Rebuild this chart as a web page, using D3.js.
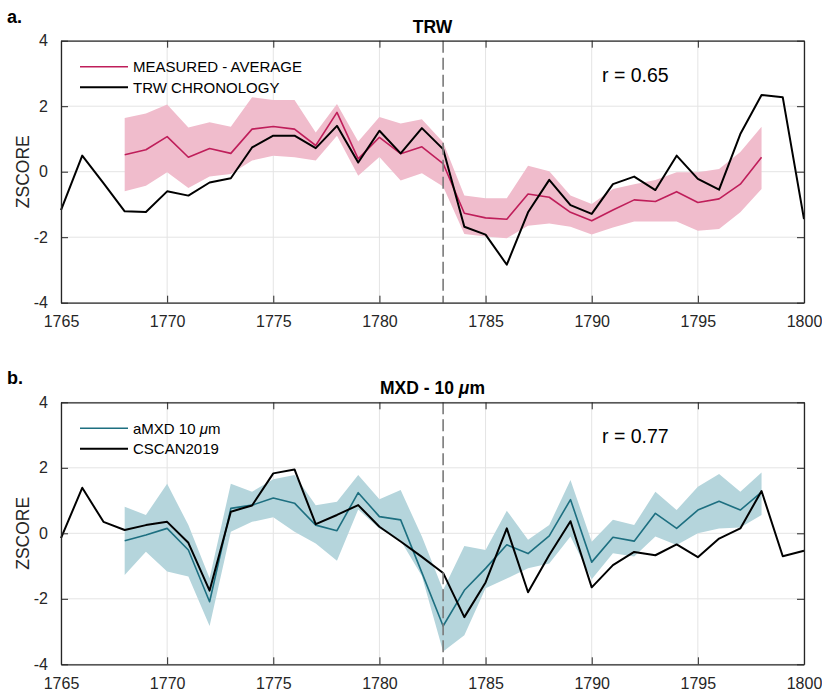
<!DOCTYPE html>
<html lang="en">
<head>
<meta charset="utf-8">
<title>TRW / MXD</title>
<script src="https://d3js.org/d3.v7.min.js"></script>
<style>
    body { margin: 0; background: #fff; }
    svg { display: block; font-family: "Liberation Sans", Arial, sans-serif; }
    .tick text { fill: #262626; font-size: 16px; }
    .tick line { stroke: #262626; }
    .domain { stroke: #262626; stroke-width: 1.3; }
</style>
</head>
<body>
<div id="chart"></div>
<script>
// years
var chronYears = [1765, 1766, 1767, 1768, 1769, 1770, 1771, 1772, 1773, 1774, 1775, 1776,
    1777, 1778, 1779, 1780, 1781, 1782, 1783, 1784, 1785, 1786, 1787, 1788,
    1789, 1790, 1791, 1792, 1793, 1794, 1795, 1796, 1797, 1798, 1799, 1800];
var sampleYears = [1768, 1769, 1770, 1771, 1772, 1773, 1774, 1775, 1776, 1777, 1778,
    1779, 1780, 1781, 1782, 1783, 1784, 1785, 1786, 1787, 1788, 1789, 1790,
    1791, 1792, 1793, 1794, 1795, 1796, 1797, 1798];
var xTicks = [1765, 1770, 1775, 1780, 1785, 1790, 1795, 1800];
var yTicks = [-4, -2, 0, 2, 4];
var eventYear = 1783;

// panel a - ring width
var trwChron = [-1.17, 0.49, -0.35, -1.21, -1.23, -0.60, -0.73, -0.33, -0.20, 0.74, 1.10, 1.10,
    0.72, 1.40, 0.28, 1.25, 0.56, 1.33, 0.69, -1.68, -1.92, -2.84, -1.24, -0.25,
    -1.02, -1.29, -0.38, -0.15, -0.56, 0.49, -0.22, -0.55, 1.15, 2.34, 2.27, -1.45];
var trwMean = [0.52, 0.67, 1.07, 0.44, 0.71, 0.56, 1.30, 1.38, 1.30, 0.80, 1.81,
    0.39, 1.05, 0.55, 0.76, 0.25, -1.27, -1.41, -1.45, -0.68, -0.78, -1.24, -1.50,
    -1.17, -0.86, -0.91, -0.61, -0.94, -0.83, -0.38, 0.44];
var trwUpper = [1.64, 1.78, 2.05, 1.35, 1.51, 1.37, 2.27, 2.19, 2.19, 1.20, 2.07,
    0.92, 1.67, 1.47, 1.60, 0.90, -0.73, -0.81, -0.81, 0.18, 0.01, -0.73, -0.99,
    -0.53, -0.38, -0.25, -0.02, -0.02, 0.08, 0.60, 1.37];
var trwLower = [-0.60, -0.43, -0.02, -0.50, -0.15, -0.07, 0.34, 0.49, 0.44, 0.34, 1.10,
    -0.12, 0.45, -0.27, -0.05, -0.45, -1.90, -1.98, -2.03, -1.65, -1.58, -1.68, -1.92,
    -1.70, -1.52, -1.52, -1.52, -1.80, -1.75, -1.24, -0.53];

// panel b - max density
var mxdChron = [-0.15, 1.39, 0.35, 0.10, 0.25, 0.35, -0.29, -1.75, 0.66, 0.85, 1.83, 1.95,
    0.28, 0.56, 0.86, 0.20, -0.25, -0.72, -1.21, -2.56, -1.50, 0.15, -1.80, -0.66,
    0.37, -1.65, -0.97, -0.57, -0.67, -0.34, -0.73, -0.16, 0.15, 1.29, -0.70, -0.53];
var mxdMean = [-0.23, -0.05, 0.15, -0.51, -2.09, 0.76, 0.86, 1.08, 0.92, 0.25, 0.08,
    1.24, 0.51, 0.41, -1.20, -2.83, -1.74, -1.07, -0.35, -0.62, -0.08, 1.03, -0.88,
    -0.12, -0.24, 0.61, 0.15, 0.71, 0.98, 0.71, 1.26];
var mxdUpper = [0.81, 0.56, 1.51, 0.25, -1.37, 1.51, 1.27, 1.65, 1.78, 0.86, 0.96,
    1.78, 1.04, 1.32, -0.10, -1.73, -0.39, -0.51, 0.69, -0.20, 0.25, 1.63, -0.26,
    0.41, 0.25, 1.27, 0.71, 1.42, 1.81, 1.27, 1.86];
var mxdLower = [-1.27, -0.56, -1.17, -1.32, -2.83, 0.05, 0.35, 0.49, 0.05, -0.31, -0.84,
    0.73, 0.15, -0.22, -1.30, -3.61, -3.11, -1.68, -1.38, -1.07, -0.92, -0.10, -1.40,
    -0.61, -0.71, -0.10, -0.36, 0.00, 0.15, 0.18, 0.56];

var W = 822, H = 693;
var svg = d3.select("#chart").append("svg")
    .attr("width", W)
    .attr("height", H);
svg.append("rect").attr("width", W).attr("height", H).attr("fill", "#fff");

var x = d3.scaleLinear().domain([1765, 1800]).range([61, 804]);

function drawPanel(opt) {
    var y = d3.scaleLinear().domain([-4, 4]).range([opt.bottom, opt.top]);
    var g = svg.append("g");

    // grid
    g.selectAll(".vgrid").data(xTicks).enter().append("line")
        .attr("x1", function (d) { return x(d); })
        .attr("x2", function (d) { return x(d); })
        .attr("y1", opt.top).attr("y2", opt.bottom)
        .attr("stroke", "#e4e4e4").attr("stroke-width", 1);
    g.selectAll(".hgrid").data(yTicks).enter().append("line")
        .attr("x1", x.range()[0]).attr("x2", x.range()[1])
        .attr("y1", function (d) { return y(d); })
        .attr("y2", function (d) { return y(d); })
        .attr("stroke", "#e4e4e4").attr("stroke-width", 1);

    // spread band
    var band = sampleYears.map(function (yr, i) {
        return { yr: yr, lo: opt.lower[i], hi: opt.upper[i] };
    });
    g.append("path")
        .datum(band)
        .attr("fill", opt.fill)
        .attr("d", d3.area()
            .x(function (d) { return x(d.yr); })
            .y0(function (d) { return y(d.lo); })
            .y1(function (d) { return y(d.hi); }));

    var line = d3.line()
        .x(function (d) { return x(d[0]); })
        .y(function (d) { return y(d[1]); });

    g.append("path")
        .datum(d3.zip(sampleYears, opt.mean))
        .attr("fill", "none")
        .attr("stroke", opt.color)
        .attr("stroke-width", 1.6)
        .attr("stroke-linejoin", "round")
        .attr("d", line);

    g.append("path")
        .datum(d3.zip(chronYears, opt.chron))
        .attr("fill", "none")
        .attr("stroke", "#000")
        .attr("stroke-width", 2)
        .attr("stroke-linejoin", "round")
        .attr("d", line);

    // event line
    g.append("line")
        .attr("x1", x(eventYear)).attr("x2", x(eventYear))
        .attr("y1", opt.top).attr("y2", opt.bottom)
        .attr("stroke", "#7a7a7a")
        .attr("stroke-width", 1.6)
        .attr("stroke-dasharray", "12,5");

    // axes (ticks inward, box on)
    var fmt = function (d) { return String(d); };
    g.append("g")
        .attr("transform", "translate(0," + opt.bottom + ")")
        .call(d3.axisBottom(x).tickValues(xTicks).tickFormat(fmt)
            .tickSizeInner(-7).tickSizeOuter(0).tickPadding(13));
    g.append("g")
        .attr("transform", "translate(0," + opt.top + ")")
        .call(d3.axisTop(x).tickValues(xTicks).tickFormat("")
            .tickSizeInner(-7).tickSizeOuter(0));
    g.append("g")
        .attr("transform", "translate(" + x.range()[0] + ",0)")
        .call(d3.axisLeft(y).tickValues(yTicks).tickFormat(fmt)
            .tickSizeInner(-7).tickSizeOuter(0).tickPadding(13));
    g.append("g")
        .attr("transform", "translate(" + x.range()[1] + ",0)")
        .call(d3.axisRight(y).tickValues(yTicks).tickFormat("")
            .tickSizeInner(-7).tickSizeOuter(0));

    // y label
    g.append("text")
        .attr("transform", "translate(29," + ((opt.top + opt.bottom) / 2) + ") rotate(-90)")
        .attr("text-anchor", "middle")
        .attr("fill", "#262626")
        .style("font-size", "17.5px")
        .text("ZSCORE");

    // title
    var t = g.append("text")
        .attr("x", (x.range()[0] + x.range()[1]) / 2)
        .attr("y", opt.top - 8)
        .attr("text-anchor", "middle")
        .style("font-size", "17.5px")
        .style("font-weight", "bold");
    opt.title(t);

    // panel letter
    g.append("text")
        .attr("x", 7).attr("y", opt.top - 18)
        .style("font-size", "18px")
        .style("font-weight", "bold")
        .text(opt.letter);

    // legend
    var leg = g.append("g").attr("transform", "translate(0," + opt.top + ")");
    var rows = [
        { label: opt.meanLabel, color: opt.color, w: 1.6 },
        { label: opt.chronLabel, color: "#000", w: 2 }
    ];
    rows.forEach(function (r, i) {
        var cy = 26 + i * 20.5;
        leg.append("line")
            .attr("x1", 80).attr("x2", 128)
            .attr("y1", cy).attr("y2", cy)
            .attr("stroke", r.color).attr("stroke-width", r.w);
        var tx = leg.append("text")
            .attr("x", 133).attr("y", cy + 5.5)
            .style("font-size", "15px")
            .attr("fill", "#000");
        r.label(tx);
    });

    // correlation
    g.append("text")
        .attr("x", 602).attr("y", opt.top + 41)
        .style("font-size", "19.5px")
        .attr("fill", "#000")
        .text(opt.r);
}

drawPanel({
    top: 40.7, bottom: 302.7, letter: "a.",
    title: function (t) { t.text("TRW"); },
    chron: trwChron, mean: trwMean, upper: trwUpper, lower: trwLower,
    color: "#bf1e5a", fill: "#f0bccc",
    meanLabel: function (t) { t.text("MEASURED - AVERAGE"); },
    chronLabel: function (t) { t.text("TRW CHRONOLOGY"); },
    r: "r = 0.65"
});

drawPanel({
    top: 402.3, bottom: 664.3, letter: "b.",
    title: function (t) {
        t.append("tspan").text("MXD - 10 ");
        t.append("tspan").style("font-style", "italic").text("\u03bc");
        t.append("tspan").text("m");
    },
    chron: mxdChron, mean: mxdMean, upper: mxdUpper, lower: mxdLower,
    color: "#1d6f80", fill: "#b5d5dc",
    meanLabel: function (t) {
        t.append("tspan").text("aMXD 10 ");
        t.append("tspan").style("font-style", "italic").text("\u03bc");
        t.append("tspan").text("m");
    },
    chronLabel: function (t) { t.text("CSCAN2019"); },
    r: "r = 0.77"
});
</script>
</body>
</html>
